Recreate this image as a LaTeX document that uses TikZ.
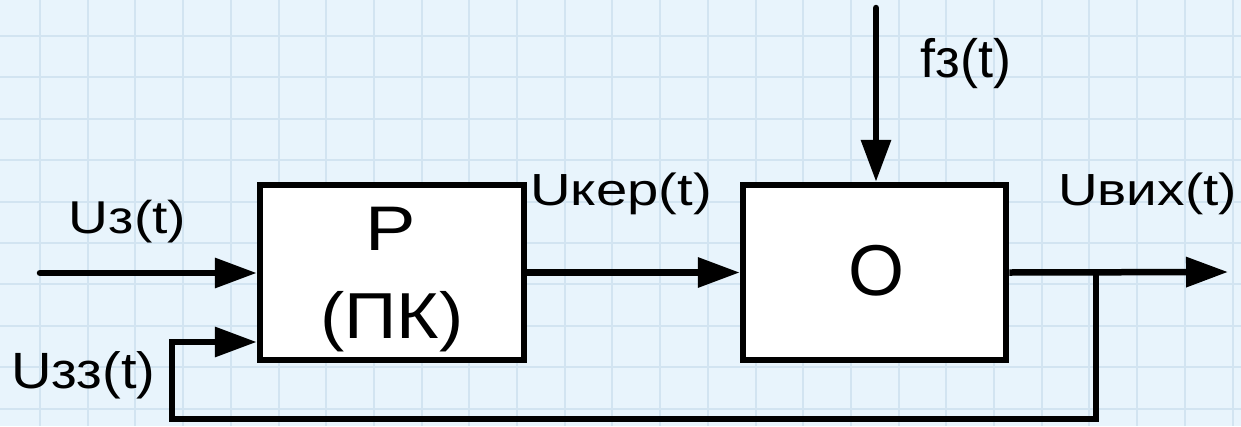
\documentclass[tikz,border=0pt]{standalone}
\usepackage{fontspec}
\setmainfont{Liberation Sans}
\usetikzlibrary{arrows.meta}
\definecolor{paper}{RGB}{232,244,252}
\definecolor{gridline}{RGB}{210,228,241}
\newcommand{\setfs}[1]{\fontsize{#1}{#1}\selectfont}
\begin{document}
\begin{tikzpicture}[x=1pt,y=-1pt,
  blockbox/.style={draw=black, fill=white, line width=6.5pt, inner sep=0pt},
  sig/.style={line width=6.5pt, line join=miter, -{Triangle[length=42pt,width=29pt]}},
  wire/.style={line width=6.5pt, line join=miter},
  lbl/.style={anchor=base, inner sep=0pt, text=black}]

% paper with a light grid
\useasboundingbox (0,0) rectangle (1241,426);
\fill[paper] (0,0) rectangle (1241,426);
\foreach \k in {0,...,25}
  \draw[gridline, line width=2pt] ({40+47.7*\k},0) -- ++(0,426);
\foreach \k in {0,...,9}
  \draw[gridline, line width=2pt] (0,{36+41.4*\k}) -- ++(1241,0);

% blocks: controller and plant
\node[blockbox, minimum width=264pt, minimum height=175pt] (R) at (392,272.5) {};
\node[blockbox, minimum width=263pt, minimum height=175pt] (O) at (874.5,272.5) {};

% free ends and branch points of the signal lines
\coordinate (in)   at (40,273);
\coordinate (ftop) at (876,8);
\coordinate (tap)  at (1096,272);
\coordinate (out)  at (1228,272);
\coordinate (fbL)  at (172,419);
\coordinate (fbT)  at (172,342);

% signal lines
\draw[sig, line cap=round] (in) -- (in -| R.west);
\draw[sig] (R.east) -- (O.west);
\draw[sig, line cap=round] (ftop) -- (ftop |- O.north);
\draw[sig] (O.east) -- (out);
\draw[sig] (tap) |- (fbL) -- (fbT) -- (fbT -| R.west);

% block texts
\node[lbl] (rname) at (391,250) {\setfs{63}\scalebox{1.2}[1]{Р}};
\node[lbl] (rpk)   at (392,338) {\setfs{65}\scalebox{1.12}[1]{(ПК)}};
\node[lbl] (oname) at (876,295) {\setfs{72}О};

% signal names
\node[lbl] (uz)   at (127.5,233) {\setfs{46}\scalebox{1.2}[1]{Uз(t)}};
\node[lbl] (uzz)  at (83.5,388)  {\setfs{51}\scalebox{1.1}[1]{Uзз(t)}};
\node[lbl] (uker) at (621,205)   {\setfs{45}\scalebox{1.25}[1]{Uкер(t)}};
\node[lbl] (uvyh) at (1147.5,205){\setfs{45}\scalebox{1.22}[1]{Uвих(t)}};
\node[lbl] (fz)   at (966,77)    {\setfs{54}fз(t)};
\end{tikzpicture}
\end{document}
